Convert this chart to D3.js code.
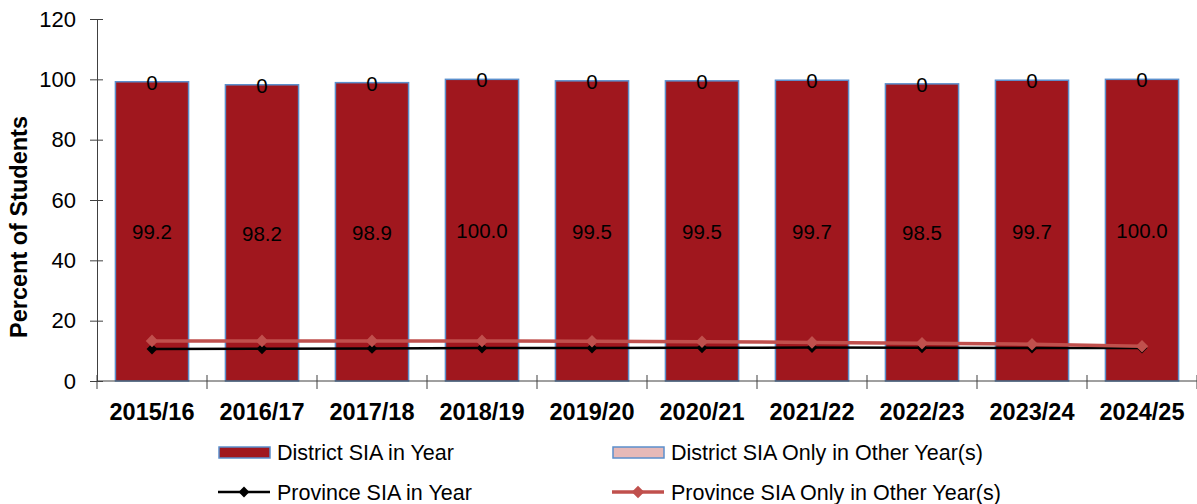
<!DOCTYPE html>
<html><head><meta charset="utf-8">
<script src="https://cdn.jsdelivr.net/npm/d3@7"></script>
<style>body{margin:0;background:#fff}svg{display:block;font-family:Arial,"Liberation Sans",sans-serif}</style>
</head><body><svg id="c" width="1197" height="504"></svg>
<script>
const categories = ["2015/16","2016/17","2017/18","2018/19","2019/20","2020/21","2021/22","2022/23","2023/24","2024/25"];
const districtInYear = [99.2,98.2,98.9,100.0,99.5,99.5,99.7,98.5,99.7,100.0];
const districtOtherYears = [0,0,0,0,0,0,0,0,0,0];
const provinceInYear = [10.6,10.7,10.8,10.9,10.9,11.0,11.1,11.0,10.9,10.9];
const provinceOtherYears = [13.3,13.3,13.3,13.3,13.2,13.0,12.8,12.5,12.2,11.5];
const yTicks = [0,20,40,60,80,100,120];

const svg = d3.select("#c");
const x = d3.scaleBand().domain(categories).range([97,1197]).paddingInner(0.335).paddingOuter(0.1675);
const y = d3.scaleLinear().domain([0,120]).range([381,19]);

// y axis
const ya = svg.append("g").attr("transform","translate(97,0)")
  .call(d3.axisLeft(y).tickValues(yTicks).tickSize(7).tickSizeOuter(0).tickPadding(14));
ya.select(".domain").attr("stroke","#404040");
ya.selectAll(".tick line").attr("stroke","#404040").attr("x1",6).attr("x2",-7);
ya.selectAll(".tick text").attr("font-size","22px").attr("fill","#000");

// bars
const bw = x.bandwidth();
svg.append("g").selectAll("rect").data(categories).join("rect")
  .attr("x",d=>x(d)).attr("width",bw)
  .attr("y",(d,i)=>y(districtInYear[i])).attr("height",(d,i)=>y(0)-y(districtInYear[i]))
  .attr("fill","#A0171E").attr("stroke","#5B8FCC").attr("stroke-width",1.5);
// zero stacked segments
svg.append("g").selectAll("rect").data(categories).join("rect")
  .attr("x",d=>x(d)).attr("width",bw)
  .attr("y",(d,i)=>y(districtInYear[i]+districtOtherYears[i])).attr("height",(d,i)=>y(districtInYear[i])-y(districtInYear[i]+districtOtherYears[i]))
  .attr("fill","#E6B9B8").attr("stroke","none");

// x axis
const xa = svg.append("g").attr("transform","translate(0,381)");
xa.append("line").attr("x1",97).attr("x2",1197).attr("stroke","#404040");
const step = x.step();
const bounds = d3.range(categories.length+1).map(i=>97+i*step);
xa.selectAll("line.t").data(bounds).join("line").attr("class","t")
  .attr("x1",d=>d).attr("x2",d=>d).attr("y1",-6).attr("y2",8).attr("stroke","#404040");
xa.selectAll("text").data(categories).join("text")
  .attr("x",d=>x(d)+bw/2).attr("y",39).attr("text-anchor","middle")
  .attr("font-size","23.5px").attr("font-weight","bold").text(d=>d);

// lines
const cx = d=>x(d)+bw/2;
function drawLine(vals,color,width,msize){
  const g = svg.append("g");
  g.append("path").datum(vals).attr("fill","none").attr("stroke",color).attr("stroke-width",width)
   .attr("d",d3.line().x((v,i)=>cx(categories[i])).y(v=>y(v)));
  g.selectAll("path.m").data(vals).join("path").attr("class","m")
   .attr("d",d3.symbol(d3.symbolDiamond2,msize)).attr("fill",color)
   .attr("transform",(v,i)=>`translate(${cx(categories[i])},${y(v)})`);
}
drawLine(provinceInYear,"#000",2.5,75);
drawLine(provinceOtherYears,"#C0504D",3.5,100);

// bar labels
svg.append("g").selectAll("text").data(categories).join("text")
  .attr("x",d=>x(d)+bw/2).attr("y",(d,i)=>y(districtInYear[i]/2)+8).attr("text-anchor","middle")
  .attr("font-size","20.5px").text((d,i)=>districtInYear[i].toFixed(1));
svg.append("g").selectAll("text").data(categories).join("text")
  .attr("x",d=>x(d)+bw/2).attr("y",(d,i)=>y(districtInYear[i]+districtOtherYears[i]/2)+8).attr("text-anchor","middle")
  .attr("font-size","20.5px").text((d,i)=>districtOtherYears[i]);

// y title
svg.append("text").attr("transform","translate(27,227) rotate(-90)").attr("text-anchor","middle")
  .attr("font-size","23.5px").attr("font-weight","bold").text("Percent of Students");

// legend
const leg = svg.append("g");
leg.append("rect").attr("x",219).attr("y",447).attr("width",51).attr("height",11).attr("fill","#A0171E").attr("stroke","#5B8FCC").attr("stroke-width",1.5);
leg.append("text").attr("x",277).attr("y",460).attr("font-size","21.5px").text("District SIA in Year");
leg.append("rect").attr("x",613).attr("y",447).attr("width",51).attr("height",11).attr("fill","#E6B9B8").attr("stroke","#5B8FCC").attr("stroke-width",1.5);
leg.append("text").attr("x",671).attr("y",460).attr("font-size","21.5px").text("District SIA Only in Other Year(s)");
leg.append("line").attr("x1",218).attr("x2",270).attr("y1",492).attr("y2",492).attr("stroke","#000").attr("stroke-width",2.5);
leg.append("path").attr("d",d3.symbol(d3.symbolDiamond2,75)).attr("fill","#000").attr("transform","translate(244,492)");
leg.append("text").attr("x",277).attr("y",500).attr("font-size","21.5px").text("Province SIA in Year");
leg.append("line").attr("x1",612).attr("x2",664).attr("y1",492).attr("y2",492).attr("stroke","#C0504D").attr("stroke-width",3.5);
leg.append("path").attr("d",d3.symbol(d3.symbolDiamond2,100)).attr("fill","#C0504D").attr("transform","translate(638,492)");
leg.append("text").attr("x",671).attr("y",500).attr("font-size","21.5px").text("Province SIA Only in Other Year(s)");
</script></body></html>
